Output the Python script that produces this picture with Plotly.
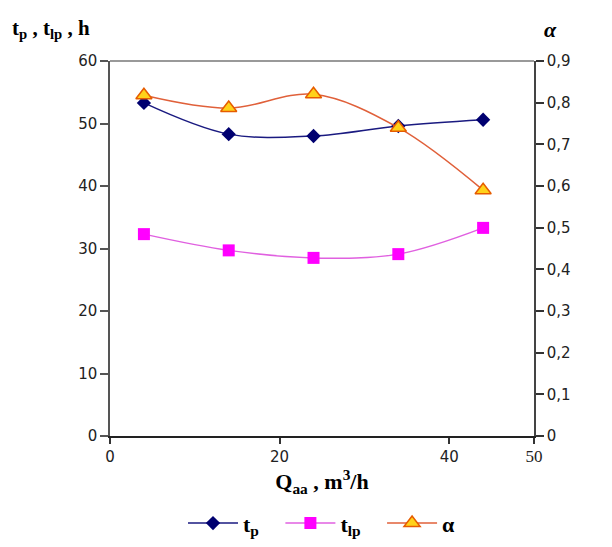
import plotly.graph_objects as go

q = [4, 14, 24, 34, 44]
tp = [53.3, 48.3, 48.0, 49.6, 50.6]
tlp = [32.3, 29.7, 28.5, 29.1, 33.3]
alpha = [0.818, 0.787, 0.82, 0.74, 0.59]

left_ticks = [0, 10, 20, 30, 40, 50, 60]
right_ticks = [0, 0.1, 0.2, 0.3, 0.4, 0.5, 0.6, 0.7, 0.8, 0.9]
right_labels = ["0", "0,1", "0,2", "0,3", "0,4", "0,5", "0,6", "0,7", "0,8", "0,9"]
x_ticks = [0, 20, 40, 50]
x_labels = ["0", "20", "40", "<span style='font-family:Liberation Serif;font-size:17px'>50</span>"]

serif = "Liberation Serif"
sans = "DejaVu Sans"

fig = go.Figure()
fig.add_trace(go.Scatter(
    x=q, y=tp, name="<b>t<sub>p</sub></b>   ", mode="lines+markers",
    line=dict(color="#1a1a80", width=1.5, shape="spline"),
    marker=dict(symbol="diamond", size=11, color="#000070"),
))
fig.add_trace(go.Scatter(
    x=q, y=tlp, name="<b>t<sub>lp</sub></b>   ", mode="lines+markers",
    line=dict(color="#e060e0", width=1.5, shape="spline"),
    marker=dict(symbol="square", size=12, color="#ff00ff"),
))
fig.add_trace(go.Scatter(
    x=q, y=alpha, name="<b>α</b>", mode="lines+markers", yaxis="y2",
    line=dict(color="#e0603a", width=1.5, shape="spline"),
    marker=dict(symbol="triangle-up", size=14, color="#ffd21a",
                line=dict(color="#e65c00", width=1.5)),
))

fig.update_layout(
    width=612, height=547,
    margin=dict(l=110, r=78, t=61, b=111, autoexpand=False),
    paper_bgcolor="white", plot_bgcolor="white",
    showlegend=True,
    legend=dict(orientation="h", x=0.5, xanchor="center",
                yref="container", y=0.005, yanchor="bottom",
                font=dict(family=serif, size=22, color="black"),
                itemwidth=50, tracegroupgap=0),
    xaxis=dict(range=[0, 50], tickvals=x_ticks, ticktext=x_labels,
               automargin=False,
               showgrid=False, zeroline=False, showline=True,
               linecolor="#222", linewidth=1.5, ticks="outside", ticklen=6,
               tickcolor="#333", tickwidth=1.5,
               tickfont=dict(family=sans, size=15, color="#222"),
               title=dict(text="<b>Q<sub>aa</sub> , m<sup>3</sup>/h</b>",
                          font=dict(family=serif, size=22, color="black"),
                          standoff=8)),
    yaxis=dict(range=[0, 60], tickvals=left_ticks, automargin=False,
               showgrid=False, zeroline=False, showline=True,
               linecolor="#555", linewidth=1.5, ticks="outside", ticklen=8,
               tickcolor="#555", tickwidth=1.5,
               tickfont=dict(family=sans, size=15, color="#222")),
    yaxis2=dict(range=[0, 0.9], tickvals=right_ticks, ticktext=right_labels,
                overlaying="y", side="right", automargin=False,
                showgrid=False, zeroline=False, showline=True,
                linecolor="#444", linewidth=1.5, ticks="outside", ticklen=8,
                tickcolor="#333", tickwidth=1.5,
                tickfont=dict(family=sans, size=15, color="#222")),
    shapes=[dict(type="line", xref="paper", yref="paper", x0=0, x1=1, y0=1, y1=1,
                 line=dict(color="#999", width=2))],
    annotations=[
        dict(text="<b>t<sub>p</sub> , t<sub>lp</sub> , h</b>", xref="paper", yref="paper",
             x=-0.235, y=1.045, xanchor="left", yanchor="bottom", showarrow=False,
             font=dict(family=serif, size=21, color="black")),
        dict(text="<b><i>α</i></b>", xref="paper", yref="paper",
             x=1.02, y=1.045, xanchor="left", yanchor="bottom", showarrow=False,
             font=dict(family=serif, size=22, color="black")),
    ],
)

fig.write_html("out.html")
